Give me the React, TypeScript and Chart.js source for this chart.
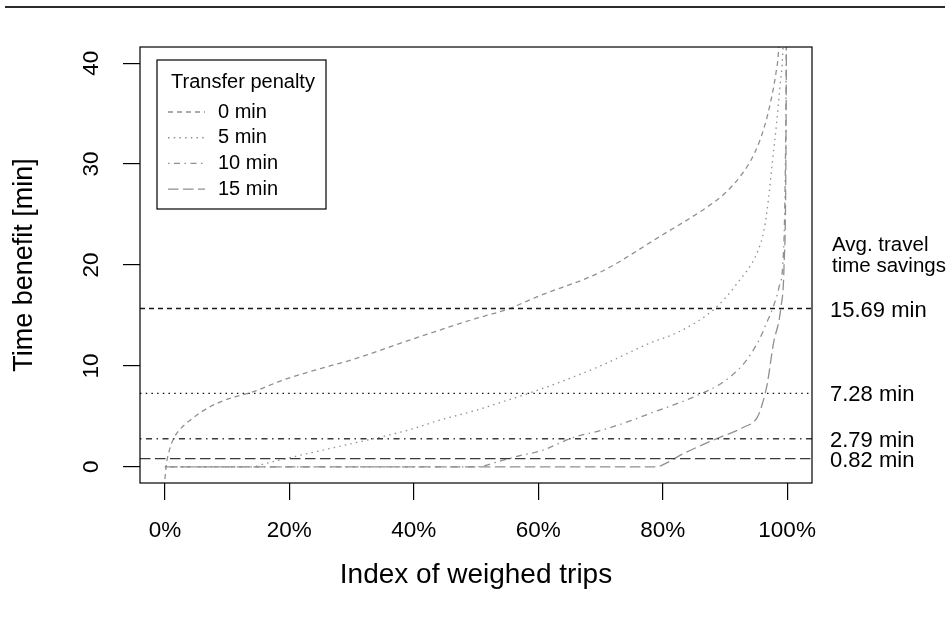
import React, { useEffect, useRef } from 'react';
import { Chart, registerables } from 'chart.js';

Chart.register(...registerables);

// ---- data ----
const X_MIN = -4;
const X_MAX = 104;
const Y_MIN = -1.6;
const Y_MAX = 41.6;
const X_TICKS = [0, 20, 40, 60, 80, 100];
const Y_TICKS = [0, 10, 20, 30, 40];

const PENALTY_LABELS = ['0 min', '5 min', '10 min', '15 min'];

// 0 min transfer penalty
const X_P0 = [0, 0.3, 0.8, 1.4, 2.4, 4, 6, 8.4, 11, 14, 19, 26.5, 30, 40, 50, 55, 60, 70, 80, 86.8, 90, 92.6, 94.7, 96.3, 97.4, 98.2, 98.6, 100];
const Y_P0 = [-1.2, 0.5, 1.8, 2.8, 3.7, 4.6, 5.5, 6.3, 6.9, 7.4, 8.6, 10.0, 10.6, 12.7, 14.7, 15.6, 16.9, 19.3, 23.0, 25.6, 27.1, 28.9, 31.0, 33.6, 36.3, 39.0, 41.0, 60];

// 5 min transfer penalty
const X_P5 = [0, 14, 16, 20, 25, 30, 35, 40, 44, 50, 54, 59, 63.5, 70, 77.7, 83, 88.4, 92, 95.3, 96.3, 97, 97.6, 98.3, 98.9, 99.3, 100];
const Y_P5 = [0, 0, 0.3, 0.9, 1.6, 2.3, 3.0, 3.8, 4.6, 5.6, 6.4, 7.4, 8.4, 10.0, 12.2, 13.5, 15.7, 18.2, 21.4, 23.5, 26.5, 30, 34, 38, 41, 55];

// 10 min transfer penalty
const X_P10 = [0, 50, 54, 57, 60.5, 65.6, 70, 75, 78, 83.3, 86, 88.7, 91, 93, 94.5, 95.6, 96.8, 97.8, 98.7, 99.3, 99.6, 99.8, 100];
const Y_P10 = [0, 0, 0.6, 1.1, 1.6, 2.9, 3.6, 4.6, 5.3, 6.5, 7.2, 8.0, 9.0, 10.2, 11.5, 12.7, 14.4, 15.9, 17.8, 20, 25, 35, 60];

// 15 min transfer penalty
const X_P15 = [0, 79, 80, 83.3, 88.7, 92.9, 95.2, 96, 96.8, 97.8, 99, 99.5, 99.8, 100];
const Y_P15 = [0, 0, 0.2, 1.3, 2.8, 3.9, 4.9, 6.2, 8.2, 12.2, 15.8, 19.8, 30, 60];

// average travel time savings per penalty
const AVG_SAVINGS = [15.69, 7.28, 2.79, 0.82];

// ---- styles ----
const FONT = '"Liberation Sans", Arial, Helvetica, sans-serif';
const CURVE_COLOR = '#909090';
const DASHES = [
  [5, 4],
  [1.5, 4.2],
  [1.5, 4.5, 6, 4.5],
  [10.5, 4.5],
];
const AVG_COLORS = ['#1a1a1a', '#111111', '#3a3a3a', '#3a3a3a'];

const SERIES_X = [X_P0, X_P5, X_P10, X_P15];
const SERIES_Y = [Y_P0, Y_P5, Y_P10, Y_P15];

const decorPlugin = {
  id: 'decor',
  beforeDraw(chart: any) {
    const { ctx, width, height } = chart;
    ctx.save();
    ctx.fillStyle = '#ffffff';
    ctx.fillRect(0, 0, width, height);
    ctx.fillStyle = '#2b2b2b';
    ctx.fillRect(5, 6, 940, 2);
    ctx.restore();
  },
  afterDatasetsDraw(chart: any) {
    const { ctx, chartArea: a } = chart;
    ctx.save();
    ctx.strokeStyle = '#000';
    ctx.lineWidth = 1.2;
    ctx.setLineDash([]);
    ctx.strokeRect(a.left, a.top, a.right - a.left, a.bottom - a.top);
    ctx.restore();
  },
  afterDraw(chart: any) {
    const { ctx, chartArea: a } = chart;
    const ys = chart.scales.y;
    ctx.save();
    // y tick labels (rotated, R style)
    ctx.fillStyle = '#000';
    ctx.font = `22.5px ${FONT}`;
    ctx.textAlign = 'center';
    ctx.textBaseline = 'middle';
    for (const t of ys.ticks) {
      const py = ys.getPixelForValue(t.value);
      ctx.save();
      ctx.translate(92, py);
      ctx.rotate(-Math.PI / 2);
      ctx.fillText(String(t.value), 0, 0);
      ctx.restore();
    }

    // legend
    const lx = a.left + 17;
    const ly = a.top + 13;
    const lw = 169;
    const lh = 149;
    ctx.fillStyle = '#fff';
    ctx.fillRect(lx, ly, lw, lh);
    ctx.strokeStyle = '#000';
    ctx.lineWidth = 1.2;
    ctx.strokeRect(lx, ly, lw, lh);
    ctx.fillStyle = '#000';
    ctx.font = `20px ${FONT}`;
    ctx.textAlign = 'center';
    ctx.fillText('Transfer penalty', lx + lw / 2 + 1.5, ly + 22);
    ctx.textAlign = 'left';
    for (let i = 0; i < PENALTY_LABELS.length; i++) {
      const ey = ly + 52 + i * 25.7;
      ctx.save();
      ctx.strokeStyle = CURVE_COLOR;
      ctx.lineWidth = 1.4;
      ctx.setLineDash(DASHES[i]);
      ctx.beginPath();
      ctx.moveTo(lx + 11, ey);
      ctx.lineTo(lx + 48, ey);
      ctx.stroke();
      ctx.restore();
      ctx.fillStyle = '#000';
      ctx.fillText(PENALTY_LABELS[i], lx + 61, ey);
    }

    // right-side annotations
    const rx = a.right + 18;
    ctx.textAlign = 'left';
    ctx.textBaseline = 'middle';
    ctx.font = `20.5px ${FONT}`;
    ctx.fillText('Avg. travel', rx + 2, ys.getPixelForValue(21.9));
    ctx.fillText('time savings', rx + 2, ys.getPixelForValue(19.9));
    ctx.font = `22px ${FONT}`;
    for (const v of AVG_SAVINGS) {
      ctx.fillText(`${v.toFixed(2)} min`, rx, ys.getPixelForValue(v) + 2);
    }
    ctx.restore();
  },
};

export default function App() {
  const ref = useRef<HTMLCanvasElement | null>(null);

  useEffect(() => {
    if (!ref.current) return;
    const curveSets = SERIES_X.map((xs, i) => ({
      label: PENALTY_LABELS[i],
      data: xs.map((x, j) => ({ x, y: SERIES_Y[i][j] })),
      borderColor: CURVE_COLOR,
      borderWidth: 1.3,
      borderDash: DASHES[i],
      pointRadius: 0,
      fill: false,
      cubicInterpolationMode: 'monotone' as const,
      order: 2,
    }));
    const avgSets = AVG_SAVINGS.map((v, i) => ({
      label: `avg ${PENALTY_LABELS[i]}`,
      data: [
        { x: X_MIN, y: v },
        { x: X_MAX, y: v },
      ],
      borderColor: AVG_COLORS[i],
      borderWidth: 1.4,
      borderDash: DASHES[i],
      pointRadius: 0,
      fill: false,
      order: 1,
    }));

    const tickGrid = {
      display: true,
      drawOnChartArea: false,
      drawTicks: true,
      tickLength: 17,
      color: '#000',
      tickColor: '#000',
      lineWidth: 1.2,
    };

    const chart = new Chart(ref.current, {
      type: 'line',
      data: { datasets: [...curveSets, ...avgSets] as any },
      plugins: [decorPlugin],
      options: {
        responsive: false,
        animation: false,
        devicePixelRatio: 1,
        layout: { padding: { top: 47, right: 137, left: 0, bottom: 0 } },
        plugins: {
          legend: { display: false },
          tooltip: { enabled: false },
          title: { display: false },
        },
        elements: { line: { tension: 0 } },
        scales: {
          x: {
            type: 'linear',
            min: X_MIN,
            max: X_MAX,
            afterBuildTicks: (s: any) => {
              s.ticks = X_TICKS.map((v) => ({ value: v }));
            },
            afterFit: (s: any) => {
              s.height = 134;
            },
            grid: tickGrid as any,
            border: { display: false },
            ticks: {
              autoSkip: false,
              maxRotation: 0,
              minRotation: 0,
              padding: 17,
              color: '#000',
              font: { family: FONT, size: 22.5 },
              callback: (v: any) => `${v}%`,
            },
            title: {
              display: true,
              text: 'Index of weighed trips',
              color: '#000',
              font: { family: FONT, size: 28 },
              padding: { top: 0, bottom: 25 },
            },
          },
          y: {
            type: 'linear',
            min: Y_MIN,
            max: Y_MAX,
            afterBuildTicks: (s: any) => {
              s.ticks = Y_TICKS.map((v) => ({ value: v }));
            },
            afterFit: (s: any) => {
              s.width = 140;
            },
            grid: tickGrid as any,
            border: { display: false },
            ticks: { display: false },
            title: {
              display: true,
              text: 'Time benefit [min]',
              color: '#000',
              font: { family: FONT, size: 27 },
              padding: { top: 8, bottom: 0 },
            },
          },
        },
      },
    });
    return () => chart.destroy();
  }, []);

  return (
    <div style={{ position: 'absolute', left: 0, top: 0, width: 949, height: 617, background: '#fff' }}>
      <canvas ref={ref} width={949} height={617} style={{ display: 'block' }} />
    </div>
  );
}
